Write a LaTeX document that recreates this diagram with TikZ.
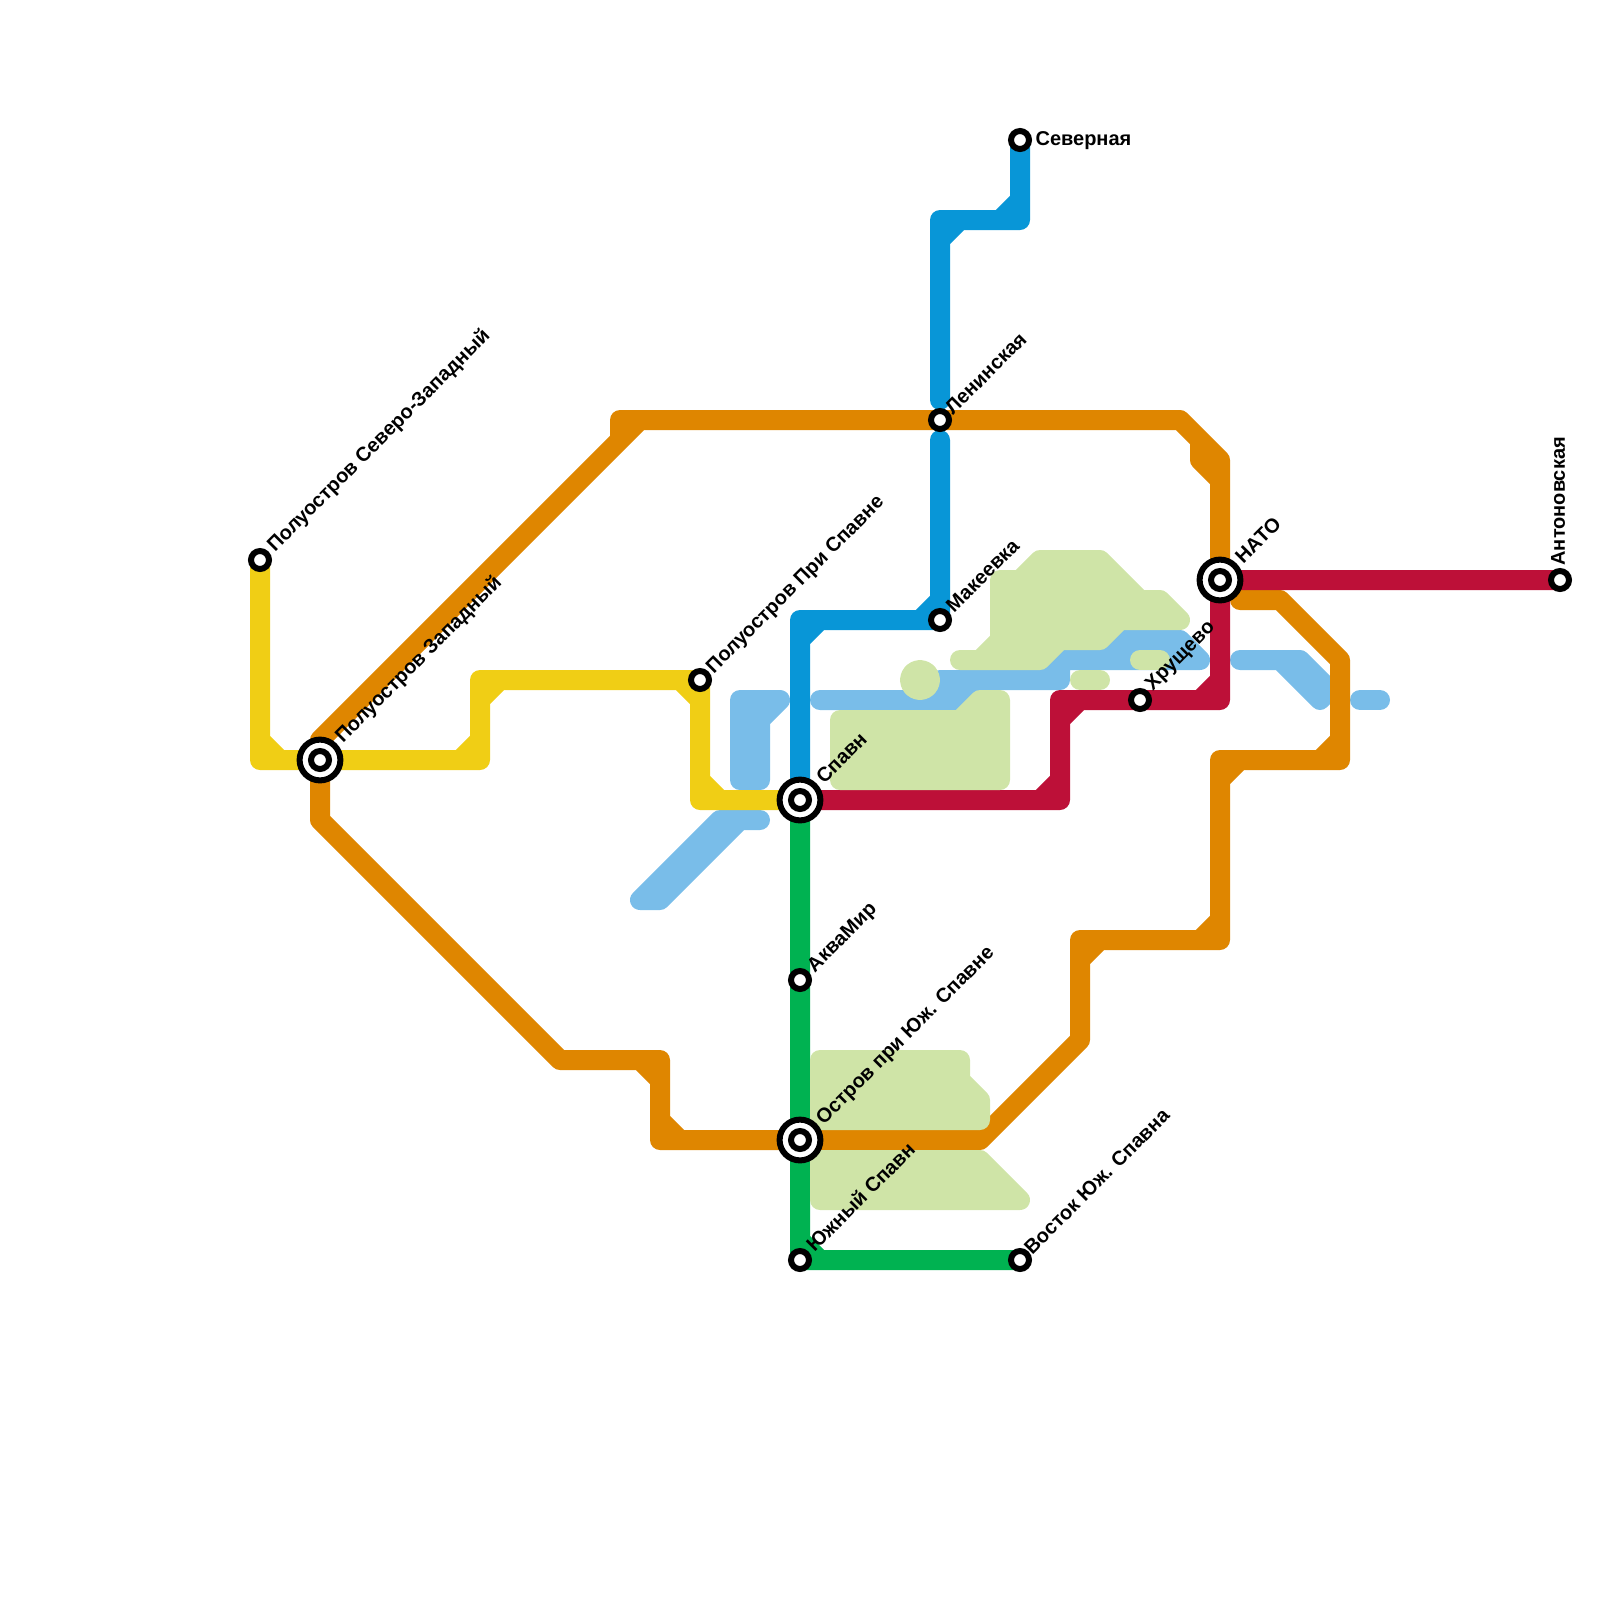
\documentclass[tikz,border=0pt]{standalone}
\usepackage{fontspec}
\setmainfont{Liberation Sans}
\definecolor{MAPyellow}{HTML}{F0CE15}
\definecolor{MAPorange}{HTML}{DF8600}
\definecolor{MAPblue}{HTML}{0896D7}
\definecolor{MAPred}{HTML}{BD1038}
\definecolor{MAPgreen}{HTML}{00B251}
\definecolor{MAPwater}{HTML}{79BDE9}
\definecolor{MAPland}{HTML}{CFE4A7}
\usetikzlibrary{positioning}
\tikzset{
   metro/.style={line width=2.5mm, line join=round, line cap=round},
   water/.style={metro, draw=MAPwater, fill=MAPwater},
   land/.style={metro, draw=MAPland, fill=MAPland},
   stn/.style={circle, draw=black, fill=white, line width=0.75mm, inner sep=0pt, minimum size=2.25mm},
   hub/.style={circle, draw=black, fill=white, line width=0.75mm, inner sep=0pt, minimum size=5.1mm},
   mapname/.style={font=\fontsize{7.11}{8}\selectfont\bfseries, inner sep=0pt, anchor=west, rotate=45}
}

\begin{document}
\begin{tikzpicture}[x=0.25cm, y=-0.25cm]
   \useasboundingbox (0,0) rectangle (80,80);
   % Stations
   \coordinate (nw) at (13,28);
   \coordinate (west) at (16,38);
   \coordinate (prispavne) at (35,34);
   \coordinate (spavn) at (40,40);
   \coordinate (north) at (51,7);
   \coordinate (lenin) at (47,21);
   \coordinate (makeev) at (47,31);
   \coordinate (hrush) at (57,35);
   \coordinate (nato) at (61,29);
   \coordinate (anton) at (78,29);
   \coordinate (akva) at (40,49);
   \coordinate (ostrov) at (40,57);
   \coordinate (south) at (40,63);
   \coordinate (east) at (51,63);
   % Water
   \draw[water] (37,35) -- (39,35) -- (38,36) -- (38,39) -- (37,39) -- cycle;
   \draw[water] (36,41) -- (38,41) -- (37,41) -- (33,45) -- (32,45) -- cycle;
   \draw[water] (41,35) -- (46,35) -- (47,34) -- (52,34) -- (53,33) -- (54,33) -- (55,32)
      -- (59,32) -- (60,33) -- (53,33) -- (53,34) -- (49,34) -- (49,35) -- cycle;
   \draw[water] (62,33) -- (65,33) -- (66.5,34.5) -- (66,35) -- (64,33) -- cycle;
   \draw[water] (68,35) -- (69,35);
   % Yellow line
   \draw[metro, MAPyellow] (nw) -- (13,38) -- (24,38) -- (24,34) -- (35,34) -- (35,40) -- (spavn)
      (13,37) -- (14,38) (23,38) -- (24,37) (24,35) -- (25,34) (34,34) -- (35,35) (35,39) -- (36,40);
   % Orange line
   \draw[metro, MAPorange] (west) -- (16,37) -- (31,22) -- (31,21) -- (lenin) -- (59,21) -- (61,23) -- (nato)
      (31,22) -- (32,21) (60,22) -- (60,23) -- (61,24);
   \draw[metro, MAPorange] (62,30) -- (64,30) -- (67,33) -- (67,38) -- (61,38) -- (61,47) -- (54,47)
      -- (54,52) -- (49,57) -- (33,57) -- (33,53) -- (28,53) -- (16,41) -- (west)
      (66,38) -- (67,37) (61,39) -- (62,38) (60,47) -- (61,46) (54,48) -- (55,47)
      (33,56) -- (34,57) (32,53) -- (33,54);
   % Blue line
   \draw[metro, MAPblue] (north) -- (51,11) -- (47,11) -- (47,20)
      (50,11) -- (51,10) (47,12) -- (48,11);
   \draw[metro, MAPblue] (47,22) -- (makeev) -- (40,31) -- (spavn)
      (46,31) -- (47,30) (40,32) -- (41,31);
   % Red line
   \draw[metro, MAPred] (spavn) -- (53,40) -- (53,35) -- (hrush) -- (61,35) -- (nato) -- (anton)
      (52,40) -- (53,39) (53,36) -- (54,35) (60,35) -- (61,34);
   % Green line
   \draw[metro, MAPgreen] (spavn) -- (akva) -- (ostrov) -- (south) -- (east)
      (40,62) -- (41,63);
   % Land
   \filldraw[land] (46,34) circle (0.5);
   \draw[land] (42,36) -- (48,36) -- (49,35) -- (50,35) -- (50,39) -- (42,39) -- cycle;
   \draw[land] (48,33) -- (49,33) -- (50,32) -- (50,29) -- (51,29) -- (52,28) -- (55,28)
      -- (57,30) -- (58,30) -- (59,31) -- (56,31) -- (55,32) -- (53,32) -- (52,33) -- cycle;
   \draw[land] (54,34) -- (55,34);
   \draw[land] (57,33) -- (58,33);
   \draw[land] (41,53) -- (48,53) -- (48,54) -- (49,55) -- (49,56) -- (41,56) -- cycle;
   \draw[land] (41,58) -- (49,58) -- (51,60) -- (41,60) -- cycle;
   % Station markers
   \node[stn] (nwDot) at (nw) {};
   \node[hub] (westHub) at (west) {};
   \node[stn] (westDot) at (west) {};
   \node[stn] (prispavneDot) at (prispavne) {};
   \node[hub] (spavnHub) at (spavn) {};
   \node[stn] (spavnDot) at (spavn) {};
   \node[stn] (northDot) at (north) {};
   \node[stn] (leninDot) at (lenin) {};
   \node[stn] (makeevDot) at (makeev) {};
   \node[stn] (hrushDot) at (hrush) {};
   \node[hub] (natoHub) at (nato) {};
   \node[stn] (natoDot) at (nato) {};
   \node[stn] (antonDot) at (anton) {};
   \node[stn] (akvaDot) at (akva) {};
   \node[hub] (ostrovHub) at (ostrov) {};
   \node[stn] (ostrovDot) at (ostrov) {};
   \node[stn] (southDot) at (south) {};
   \node[stn] (eastDot) at (east) {};
   % Station names
   \node[mapname] (nwName) at (13.55,27.45) {Полуостров Северо-Западный};
   \node[mapname] (westName) at (16.95,37) {Полуостров Западный};
   \node[mapname] (prispavneName) at (35.5,33.55) {Полуостров При Спавне};
   \node[mapname] (spavnName) at (40.95,39) {Спавн};
   \node[mapname, rotate=-45] (northName) at (51.75,7.05) {Северная};
   \node[mapname] (leninName) at (47.4,20.55) {Ленинская};
   \node[mapname] (makeevName) at (47.45,30.45) {Макеевка};
   \node[mapname] (hrushName) at (57.45,34.4) {Хрущево};
   \node[mapname] (natoName) at (61.9,28) {НАТО};
   \node[mapname, rotate=45] (antonName) at (77.9,28.3) {Антоновская};
   \node[mapname] (akvaName) at (40.55,48.5) {АкваМир};
   \node[mapname] (ostrovName) at (41,56.1) {Остров при Юж. Спавне};
   \node[mapname] (southName) at (40.45,62.4) {Южный Спавн};
   \node[mapname] (eastName) at (51.35,62.55) {Восток Юж. Спавна};
\end{tikzpicture}
\end{document}
